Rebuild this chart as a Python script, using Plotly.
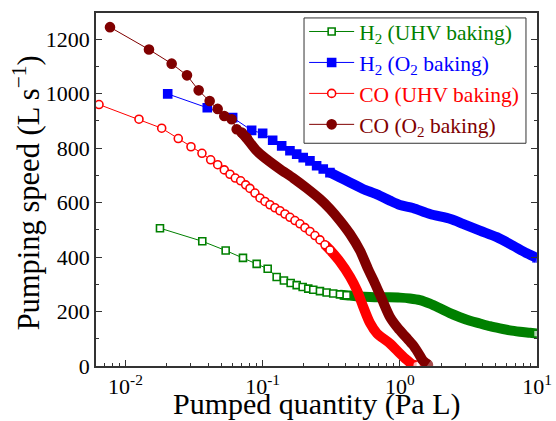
import plotly.graph_objects as go

# ---------------- data ----------------
# H2 (UHV baking): individually visible markers
h2_uhv_x = [0.01784, 0.03629, 0.05374, 0.07185, 0.09044, 0.1088, 0.1265, 0.1429, 0.1600,
            0.1770, 0.1957, 0.2150, 0.2338, 0.2616, 0.2927, 0.3270, 0.3660, 0.4095]
h2_uhv_y = [506, 458, 424, 397, 375, 357, 327, 314, 305, 297, 290, 284, 280, 275, 270, 266, 263, 260]
# H2 (UHV baking): dense part (markers merge into a band)
h2_uhv_band_x = [0.3660, 0.4329, 0.5120, 0.6055, 0.7161, 0.8469, 1.0016, 1.1846, 1.4013, 1.657,
                 1.960, 2.319, 2.743, 3.244, 3.836, 4.536, 5.365, 6.345, 7.506, 8.878, 10.0]
h2_uhv_band_y = [262, 259, 255, 253, 252, 252, 251, 248, 242, 229, 212, 194, 179, 166, 156, 146,
                 138, 131, 126, 122, 119]

# H2 (O2 baking)
h2_o2_x = [0.02031, 0.03947, 0.06042, 0.08313, 0.1000, 0.1183, 0.1376, 0.1581, 0.1770, 0.1976,
           0.2212, 0.2474, 0.2765, 0.3094]
h2_o2_y = [999, 948, 912, 865, 854, 829, 808, 790, 778, 765, 753, 735, 723, 710]
h2_o2_band_x = [0.3094, 0.3660, 0.4329, 0.5383, 0.6810, 0.8469, 1.0016, 1.2458, 1.657, 2.346,
                2.884, 3.836, 5.102, 6.673, 8.441, 10.0]
h2_o2_band_y = [710, 692, 674, 650, 630, 607, 591, 580, 558, 540, 522, 497, 473, 442, 414, 397]

# CO (UHV baking)
co_uhv_x = [0.00641, 0.01254, 0.01836, 0.02425, 0.03002, 0.03610, 0.04178, 0.04699, 0.05250,
            0.05776, 0.06314, 0.06912, 0.07517, 0.08078, 0.08787, 0.09556, 0.1039, 0.1130,
            0.1229, 0.1337, 0.1454, 0.1581, 0.1719, 0.1870, 0.2033, 0.2212, 0.2405, 0.2616,
            0.2845, 0.3094]
co_uhv_y = [960, 906, 873, 835, 805, 781, 757, 739, 720, 704, 690, 680, 665, 652, 635, 617,
            604, 592, 581, 570, 558, 546, 534, 522, 508, 494, 479, 463, 445, 426]
co_uhv_band_x = [0.2845, 0.3094, 0.3660, 0.4329, 0.4869, 0.5383, 0.6055, 0.6810, 0.8469,
                 1.0016, 1.1264, 1.2458, 1.326]
co_uhv_band_y = [445, 426, 383, 328, 278, 220, 158, 120, 83, 46, 22, 5, 3]

# CO (O2 baking)
co_o2_x = [0.007709, 0.01483, 0.02171, 0.02807, 0.03416, 0.04108, 0.04699, 0.05250, 0.05943,
           0.06464, 0.07028, 0.07643]
co_o2_y = [1244, 1162, 1110, 1067, 1012, 973, 944, 918, 906, 869, 857, 838]
co_o2_band_x = [0.07028, 0.07643, 0.09044, 0.1069, 0.1337, 0.1671, 0.2093, 0.2616, 0.3094,
                0.3660, 0.4329, 0.5120, 0.5855, 0.6585, 0.7409, 0.8469, 0.9687, 1.108, 1.2458,
                1.3548, 1.4736, 1.6025]
co_o2_band_y = [857, 836, 790, 759, 723, 690, 653, 613, 577, 534, 485, 424, 357, 303, 245, 180,
                139, 106, 77, 50, 20, 5]

x_tick_vals = [0.01, 0.1, 1, 10]
x_tick_text = ["10<sup>-2</sup>", "10<sup>-1</sup>", "10<sup>0</sup>", "10<sup>1</sup>"]

FONT = "Liberation Serif, Times New Roman, serif"
GREEN = "#008000"
BLUE = "#0000FF"
RED = "#FF0000"
MAROON = "#800000"
AX = "#333333"

fig = go.Figure()


def add_series(name, color, sx, sy, bx, by, symbol, filled, msize):
    n = len(bx)
    fill = color if filled else "white"
    fig.add_trace(go.Scatter(
        x=bx, y=by, mode="lines+markers", showlegend=False, hoverinfo="skip",
        line=dict(color=color, width=10, shape="spline", smoothing=0.8),
        marker=dict(symbol=symbol, size=[0] * (n - 1) + [msize], color=fill,
                    line=dict(color=color, width=[0] * (n - 1) + [1.6])),
    ))
    fig.add_trace(go.Scatter(
        x=sx, y=sy, mode="lines+markers", name=name, cliponaxis=False,
        line=dict(color=color, width=1),
        marker=dict(symbol=symbol, size=msize, color=fill, line=dict(color=color, width=1.6)),
    ))


def colored(text, color):
    return '<span style="color:%s">%s</span>' % (color, text)


add_series(colored("H<sub>2</sub> (UHV baking)", GREEN), GREEN, h2_uhv_x, h2_uhv_y,
           h2_uhv_band_x, h2_uhv_band_y, "square", False, 7)
add_series(colored("H<sub>2</sub> (O<sub>2</sub> baking)", BLUE), BLUE, h2_o2_x, h2_o2_y,
           h2_o2_band_x, h2_o2_band_y, "square", True, 8)
add_series(colored("CO (UHV baking)", RED), RED, co_uhv_x, co_uhv_y,
           co_uhv_band_x, co_uhv_band_y, "circle", False, 8)
add_series(colored("CO (O<sub>2</sub> baking)", MAROON), MAROON, co_o2_x, co_o2_y,
           co_o2_band_x, co_o2_band_y, "circle", True, 9)

minor_x = [k * 10.0 ** e for e in range(-3, 1) for k in range(2, 10)]

fig.update_layout(
    width=556, height=421,
    margin=dict(l=96, r=19, t=11, b=55),
    paper_bgcolor="white", plot_bgcolor="white",
    font=dict(family=FONT, color="black", size=22),
    xaxis=dict(
        type="log", range=[-2.215, 1.0], automargin=False,
        tickmode="array", tickvals=x_tick_vals, ticktext=x_tick_text,
        ticks="inside", ticklen=6, tickwidth=1, tickcolor=AX,
        showline=True, linecolor=AX, linewidth=1.5, mirror=True,
        showgrid=False, zeroline=False,
        tickfont=dict(size=22),
        minor=dict(ticks="inside", ticklen=3, tickwidth=1, tickcolor=AX,
                   tickmode="array", tickvals=minor_x, showgrid=False),
    ),
    yaxis=dict(
        range=[0, 1296], tickmode="linear", tick0=0, dtick=200, automargin=False,
        ticks="inside", ticklen=6, tickwidth=1, tickcolor=AX,
        showline=True, linecolor=AX, linewidth=1.5, mirror="ticks",
        showgrid=False, zeroline=False,
        tickfont=dict(size=22),
        minor=dict(ticks="inside", ticklen=3, tickwidth=1, tickcolor=AX, dtick=100,
                   showgrid=False),
    ),
    legend=dict(x=0.472, y=1.0056, xanchor="left", yanchor="top",
                bgcolor="rgba(0,0,0,0)", borderwidth=0,
                font=dict(size=21.5), tracegroupgap=0, itemwidth=45),
    shapes=[
        dict(type="rect", xref="paper", yref="paper", x0=0.4717, x1=0.975, y0=0.631, y1=0.986,
             line=dict(color=AX, width=1), fillcolor="white", layer="above"),
    ],
    annotations=[
        dict(text="Pumped quantity (Pa L)", xref="paper", yref="paper",
             x=0.5, y=-0.108, xanchor="center", yanchor="middle", showarrow=False,
             font=dict(size=30)),
        dict(text="Pumping speed (L s<sup>\u22121</sup>)", xref="paper", yref="paper",
             x=-0.158, y=0.49, xanchor="center", yanchor="middle", showarrow=False,
             textangle=-90, font=dict(size=30.5)),
    ],
)

fig.write_html("out.html", config={"displayModeBar": False},
               post_script="document.body.style.margin='0px';document.body.style.padding='0px';")
